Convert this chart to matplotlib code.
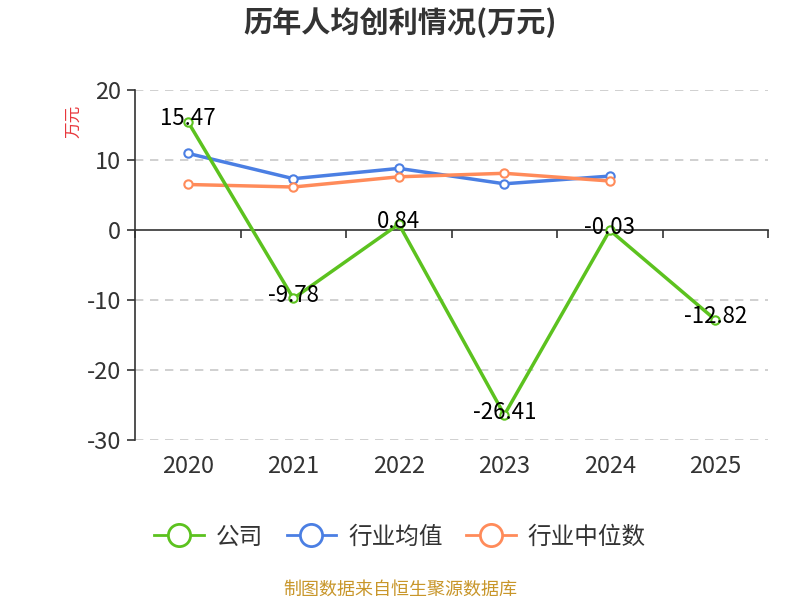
import matplotlib
matplotlib.use("Agg")
import matplotlib.pyplot as plt
import matplotlib.transforms as mtransforms
from matplotlib.lines import Line2D

plt.rcParams["font.family"] = ["Noto Sans CJK SC", "DejaVu Sans"]
plt.rcParams["axes.unicode_minus"] = False

# ==========================================================
# Datos
# ==========================================================

years = ["2020", "2021", "2022", "2023", "2024", "2025"]
company = [15.47, -9.78, 0.84, -26.41, -0.03, -12.82]
industry_mean = [10.95, 7.33, 8.8, 6.6, 7.7]
industry_median = [6.5, 6.14, 7.6, 8.1, 7.0]
series_names = ["公司", "行业均值", "行业中位数"]

green = "#5cc21f"
blue = "#4b7fe3"
orange = "#ff8b5a"

# ==========================================================
# Figura
# ==========================================================

fig = plt.figure(figsize=(8, 6), dpi=100)
ax = fig.add_axes([0.169, 0.2667, 0.791, 0.5833])

x = list(range(len(years)))

ax.plot(x, company, color=green, linewidth=2.5, marker="o", markersize=6,
        markerfacecolor="white", markeredgecolor=green, markeredgewidth=1.5,
        zorder=4)
ax.plot(x[:len(industry_mean)], industry_mean, color=blue, linewidth=2.5,
        marker="o", markersize=6, markerfacecolor="white",
        markeredgecolor=blue, markeredgewidth=1.5, zorder=3)
ax.plot(x[:len(industry_median)], industry_median, color=orange, linewidth=2.5,
        marker="o", markersize=6, markerfacecolor="white",
        markeredgecolor=orange, markeredgewidth=1.5, zorder=3)

for xi, v in zip(x, company):
    ax.annotate(f"{v:.2f}", (xi, v), xytext=(0, 2), textcoords="offset points",
                ha="center", va="center", fontsize=16, color="black", zorder=6)

ax.set_xlim(-0.5, len(years) - 0.5)
ax.set_ylim(-30, 20)
ax.set_yticks([20, 10, 0, -10, -20, -30])

for yv in [20, 10, -10, -20, -30]:
    ax.axhline(yv, color="#c8c8c8", linestyle=(0, (5, 4)), linewidth=1.2, zorder=1)

ax.spines["top"].set_visible(False)
ax.spines["right"].set_visible(False)
ax.spines["left"].set_color("#333333")
ax.spines["left"].set_linewidth(1.2)
ax.spines["bottom"].set_position(("data", 0))
ax.spines["bottom"].set_color("#333333")
ax.spines["bottom"].set_linewidth(1.2)

ax.set_xticks([i - 0.5 for i in range(len(years) + 1)])
ax.set_xticklabels([])
ax.tick_params(axis="x", direction="out", length=6, width=1.2, color="#333333")
ax.tick_params(axis="y", direction="out", length=6, width=1.2, color="#333333",
               labelsize=17, labelcolor="#333333", pad=4)

trans = mtransforms.blended_transform_factory(ax.transData, ax.transAxes)
for xi, yr in zip(x, years):
    ax.text(xi, -0.075, yr, transform=trans, ha="center", va="center",
            fontsize=17, color="#333333")

fig.text(0.092, 0.797, "万元", rotation=90, ha="center", va="center",
         fontsize=12, color="#e8363b")

fig.text(0.5, 0.962, "历年人均创利情况(万元)", ha="center", va="center",
         fontsize=21, fontweight="bold", color="#333333")

handles = [
    Line2D([], [], color=c, linewidth=2, marker="o", markersize=16,
           markerfacecolor="white", markeredgecolor=c, markeredgewidth=2)
    for c in [green, blue, orange]
]
fig.legend(handles, series_names, loc="center", bbox_to_anchor=(0.5, 0.105),
           ncol=3, frameon=False, fontsize=17, handlelength=2.1,
           columnspacing=1.0, handletextpad=0.5, labelcolor="#333333")

fig.text(0.5, 0.017, "制图数据来自恒生聚源数据库", ha="center", va="center",
         fontsize=13, color="#c8962a")

plt.savefig("out.png", dpi=100)
plt.close()
